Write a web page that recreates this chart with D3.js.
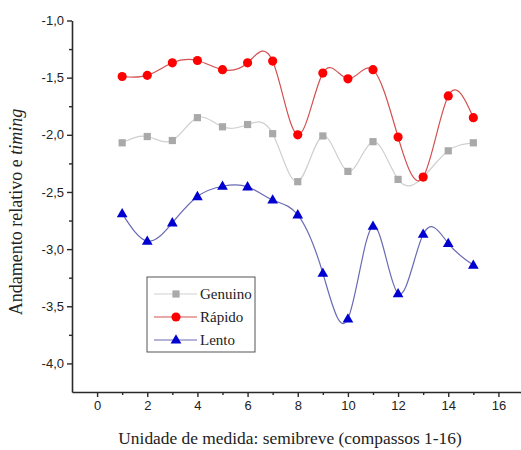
<!DOCTYPE html>
<html>
<head>
<meta charset="utf-8">
<script src="https://cdn.jsdelivr.net/npm/d3@7"></script>
<style>
  html, body { margin: 0; padding: 0; background: #fff; }
  svg { display: block; }
</style>
</head>
<body>
<svg id="chart" width="521" height="450"></svg>
<script>
// Measures (semibreves 1-15)
const measures = [1, 2, 3, 4, 5, 6, 7, 8, 9, 10, 11, 12, 13, 14, 15];

// Relative tempo / timing per series
const genuino = [-2.07, -2.015, -2.05, -1.85, -1.93, -1.91, -1.99, -2.41, -2.01, -2.32, -2.06, -2.39, -2.37, -2.14, -2.07];
const rapido  = [-1.49, -1.48, -1.37, -1.35, -1.43, -1.37, -1.355, -2.00, -1.46, -1.51, -1.43, -2.02, -2.37, -1.66, -1.85];
const lento   = [-2.69, -2.93, -2.77, -2.54, -2.45, -2.455, -2.57, -2.70, -3.21, -3.61, -2.80, -3.39, -2.87, -2.95, -3.14];

const seriesNames = ["Genuino", "Rápido", "Lento"];

// Axis ticks
const xTicks = [0, 2, 4, 6, 8, 10, 12, 14, 16];
const xMinorTicks = [1, 3, 5, 7, 9, 11, 13, 15];
const yTicks = [-1.0, -1.5, -2.0, -2.5, -3.0, -3.5, -4.0];
const yMinorTicks = [-1.25, -1.75, -2.25, -2.75, -3.25, -3.75];

const svg = d3.select("#chart");

const x = d3.scaleLinear().domain([-1, 17]).range([72, 523.5]);
const y = d3.scaleLinear().domain([-4.25, -1.0]).range([392, 20.5]);

const fmt = v => d3.format(".1f")(v).replace(".", ",").replace("−", "-");

const series = [
  { name: seriesNames[0], values: genuino, line: "#cfcfcf", fill: "#a9a9a9", shape: "square" },
  { name: seriesNames[1], values: rapido,  line: "#d45050", fill: "#ff0000", shape: "circle" },
  { name: seriesNames[2], values: lento,   line: "#6a6ab4", fill: "#0000d0", shape: "triangle" }
];

const line = d3.line()
  .x(d => x(d[0]))
  .y(d => y(d[1]))
  .curve(d3.curveNatural);

const symbolFor = {
  square: d3.symbol().type(d3.symbolSquare).size(52),
  circle: d3.symbol().type(d3.symbolCircle).size(66),
  triangle: d3.symbol().type(d3.symbolTriangle).size(50)
};

// Series lines then markers
const plot = svg.append("g");
series.forEach(s => {
  const pts = measures.map((m, i) => [m, s.values[i]]);
  plot.append("path")
    .datum(pts)
    .attr("fill", "none")
    .attr("stroke", s.line)
    .attr("stroke-width", 1.2)
    .attr("d", line);
});
series.forEach(s => {
  const pts = measures.map((m, i) => [m, s.values[i]]);
  plot.selectAll(null)
    .data(pts)
    .enter().append("path")
    .attr("transform", d => `translate(${x(d[0])},${y(d[1]) + (s.shape === "triangle" ? 0.5 : 0)})`)
    .attr("d", symbolFor[s.shape]())
    .attr("fill", s.fill);
});

// Axes
const axisColor = "#2a2a2a";
svg.append("g").attr("transform", `translate(0,${y.range()[0]})`)
  .call(d3.axisBottom(x).tickValues(xTicks).tickSize(5).tickPadding(4).tickSizeOuter(0).tickFormat(d3.format("d")));
svg.append("g").attr("transform", `translate(0,${y.range()[0]})`)
  .call(d3.axisBottom(x).tickValues(xMinorTicks).tickSize(3).tickSizeOuter(0).tickFormat(""))
  .call(g => g.select(".domain").remove());

svg.append("g").attr("transform", `translate(${x.range()[0]},0)`)
  .call(d3.axisLeft(y).tickValues(yTicks).tickSize(5).tickPadding(3).tickSizeOuter(0).tickFormat(fmt));
svg.append("g").attr("transform", `translate(${x.range()[0]},0)`)
  .call(d3.axisLeft(y).tickValues(yMinorTicks).tickSize(3).tickSizeOuter(0).tickFormat(""))
  .call(g => g.select(".domain").remove());

svg.selectAll(".domain").attr("stroke", axisColor).attr("stroke-width", 1.6);
svg.selectAll(".tick line").attr("stroke", axisColor).attr("stroke-width", 1.4);
svg.selectAll(".tick text")
  .attr("fill", "#222")
  .attr("font-family", "Liberation Sans, Arial, sans-serif")
  .attr("font-size", 13);

// Axis titles
svg.append("text")
  .attr("x", 290)
  .attr("y", 444)
  .attr("text-anchor", "middle")
  .attr("font-family", "Liberation Serif, Times New Roman, serif")
  .attr("font-size", 17.4)
  .attr("fill", "#222")
  .text("Unidade de medida: semibreve (compassos 1-16)");

const yTitle = svg.append("text")
  .attr("transform", "translate(22,212) rotate(-90)")
  .attr("text-anchor", "middle")
  .attr("font-family", "Liberation Serif, Times New Roman, serif")
  .attr("font-size", 18)
  .attr("fill", "#222");
yTitle.append("tspan").text("Andamento relativo e ");
yTitle.append("tspan").attr("font-style", "italic").text("timing");

// Legend
const legend = svg.append("g").attr("transform", "translate(147,277)");
legend.append("rect")
  .attr("width", 108).attr("height", 75)
  .attr("fill", "#fff")
  .attr("stroke", "#555").attr("stroke-width", 1);
series.forEach((s, i) => {
  const ly = 17 + i * 23;
  legend.append("line")
    .attr("x1", 7).attr("x2", 50).attr("y1", ly).attr("y2", ly)
    .attr("stroke", s.line).attr("stroke-width", 1.2);
  legend.append("path")
    .attr("transform", `translate(29,${ly + (s.shape === "triangle" ? 0.5 : 0)})`)
    .attr("d", symbolFor[s.shape]())
    .attr("fill", s.fill);
  legend.append("text")
    .attr("x", 53).attr("y", ly + 5)
    .attr("font-family", "Liberation Serif, Times New Roman, serif")
    .attr("font-size", 15)
    .attr("fill", "#222")
    .text(s.name);
});
</script>
</body>
</html>
